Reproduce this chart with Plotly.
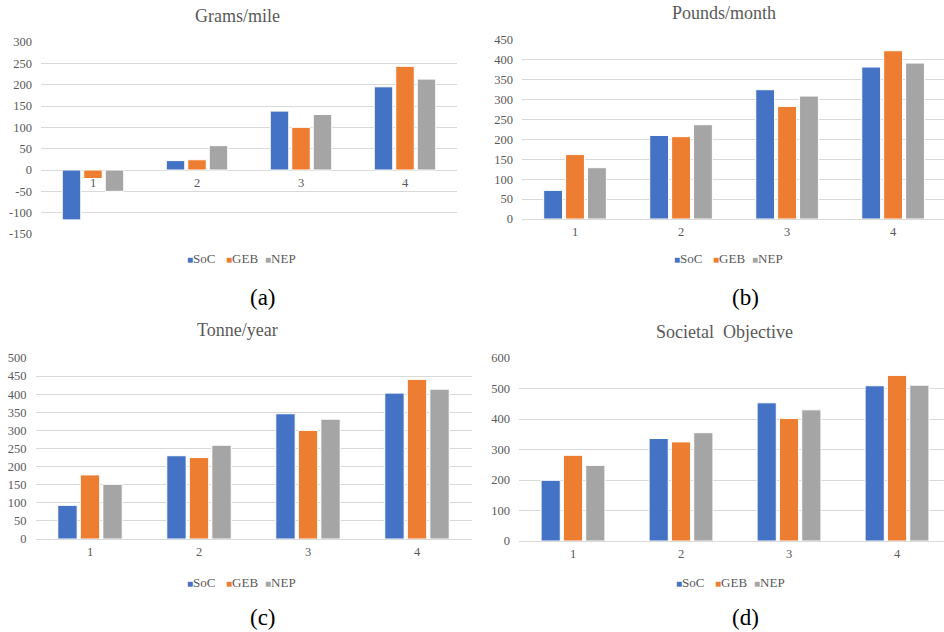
import plotly.graph_objects as go

categories = ["1", "2", "3", "4"]
series_names = ["SoC", "GEB", "NEP"]
colors = ["#4472C4", "#ED7D31", "#A5A5A5"]

grams_soc = [-117, 22, 138, 195]
grams_geb = [-20, 24, 100, 243]
grams_nep = [-50, 57, 130, 213]

pounds_soc = [72, 210, 325, 382]
pounds_geb = [162, 207, 283, 423]
pounds_nep = [129, 237, 309, 392]

tonne_soc = [93, 230, 346, 403]
tonne_geb = [177, 225, 300, 441]
tonne_nep = [151, 259, 331, 414]

soc_obj_soc = [199, 336, 453, 509]
soc_obj_geb = [281, 325, 402, 543]
soc_obj_nep = [248, 355, 430, 511]

grams_ticks = [-150, -100, -50, 0, 50, 100, 150, 200, 250, 300]
pounds_ticks = [0, 50, 100, 150, 200, 250, 300, 350, 400, 450]
tonne_ticks = [0, 50, 100, 150, 200, 250, 300, 350, 400, 450, 500]
soc_obj_ticks = [0, 100, 200, 300, 400, 500, 600]

titles = ["Grams/mile", "Pounds/month", "Tonne/year", "Societal  Objective"]
captions = ["(a)", "(b)", "(c)", "(d)"]

W, H = 944, 632
FONT = "Liberation Serif, Times New Roman, Times, DejaVu Serif, serif"
TXT = "#595959"
GRID = "#D9D9D9"
LEG_LEFT = -54      # legend left edge relative to its centre, px
LEG_STEP = 39       # px between legend entries

def px(x):
    return x / W

def py(y):
    return 1 - y / H

panels = [
    dict(data=[grams_soc, grams_geb, grams_nep], ticks=grams_ticks, xd=[41, 457], yd=[234, 42], yr=[-150, 300],
         xr=[-0.5, 3.5], title=(237, 16), cap=(263, 297), leg=(239, 258)),
    dict(data=[pounds_soc, pounds_geb, pounds_nep], ticks=pounds_ticks, xd=[522, 944], yd=[219, 40], yr=[0, 450],
         xr=[-0.5, 3.48], title=(724, 13), cap=(745, 297), leg=(726, 258)),
    dict(data=[tonne_soc, tonne_geb, tonne_nep], ticks=tonne_ticks, xd=[35.5, 471.5], yd=[539, 358], yr=[0, 500],
         xr=[-0.5, 3.5], title=(237, 330), cap=(263, 617), leg=(239, 582)),
    dict(data=[soc_obj_soc, soc_obj_geb, soc_obj_nep], ticks=soc_obj_ticks, xd=[519, 944], yd=[541, 358], yr=[0, 600],
         xr=[-0.5, 3.435], title=(724, 332), cap=(745, 617), leg=(728, 582)),
]

fig = go.Figure()
layout = dict(
    width=W, height=H,
    margin=dict(l=0, r=0, t=0, b=0, pad=0, autoexpand=False),
    paper_bgcolor="white", plot_bgcolor="white",
    font=dict(family=FONT, color=TXT, size=12.5),
    barmode="group", bargap=0.38, bargroupgap=0.14,
    showlegend=False,
    annotations=[],
)

for i, p in enumerate(panels):
    n = "" if i == 0 else str(i + 1)
    xa, ya = "xaxis" + n, "yaxis" + n
    for s in range(3):
        fig.add_trace(go.Bar(
            x=categories, y=p["data"][s], name=series_names[s],
            marker=dict(color=colors[s], line=dict(color="white", width=1)),
            xaxis="x" + n, yaxis="y" + n,
        ))
    xdom = [px(p["xd"][0]), min(1.0, px(p["xd"][1]))]
    ydom = [py(p["yd"][0]), py(p["yd"][1])]
    xaxis = dict(domain=xdom, range=p["xr"], type="category", showgrid=False,
                 showline=False, ticks="", tickfont=dict(size=12.5, color=TXT, family=FONT),
                 zeroline=False, fixedrange=True, automargin=False, ticklabelstandoff=3)
    if i == 0:
        zero_frac = ydom[0] + (ydom[1] - ydom[0]) * (0 - p["yr"][0]) / (p["yr"][1] - p["yr"][0])
        xaxis.update(anchor="free", position=zero_frac)
    else:
        xaxis.update(anchor="y" + n)
    yaxis = dict(domain=ydom, range=p["yr"], tickvals=p["ticks"], ticktext=[str(t) for t in p["ticks"]],
                 showgrid=True, gridcolor=GRID,
                 gridwidth=1, zeroline=True, zerolinecolor=GRID, zerolinewidth=1,
                 showline=False, ticks="", tickfont=dict(size=12.5, color=TXT, family=FONT),
                 anchor="x" + n, fixedrange=True, automargin=False, ticklabelstandoff=8)
    layout[xa] = xaxis
    layout[ya] = yaxis
    for s, (name, c) in enumerate(zip(series_names, colors)):
        layout["annotations"].append(dict(
            text=f"<span style='color:{c};font-size:10px'>\u25A0</span>{name}",
            x=px(p["leg"][0] + LEG_LEFT + s * LEG_STEP), y=py(p["leg"][1]),
            xref="paper", yref="paper", showarrow=False,
            xanchor="left", yanchor="middle",
            font=dict(size=13, color=TXT, family=FONT)))
    layout["annotations"].append(dict(text=titles[i], x=px(p["title"][0]), y=py(p["title"][1]),
                                      xref="paper", yref="paper", showarrow=False,
                                      xanchor="center", yanchor="middle",
                                      font=dict(size=18, color=TXT, family=FONT)))
    layout["annotations"].append(dict(text=captions[i], x=px(p["cap"][0]), y=py(p["cap"][1]),
                                      xref="paper", yref="paper", showarrow=False,
                                      xanchor="center", yanchor="middle",
                                      font=dict(size=23, color="black", family=FONT)))

fig.update_layout(**layout)
fig.write_html("out.html", config={"displayModeBar": False, "staticPlot": True},
               post_script="document.body.style.margin='0';document.body.style.overflow='hidden';")
